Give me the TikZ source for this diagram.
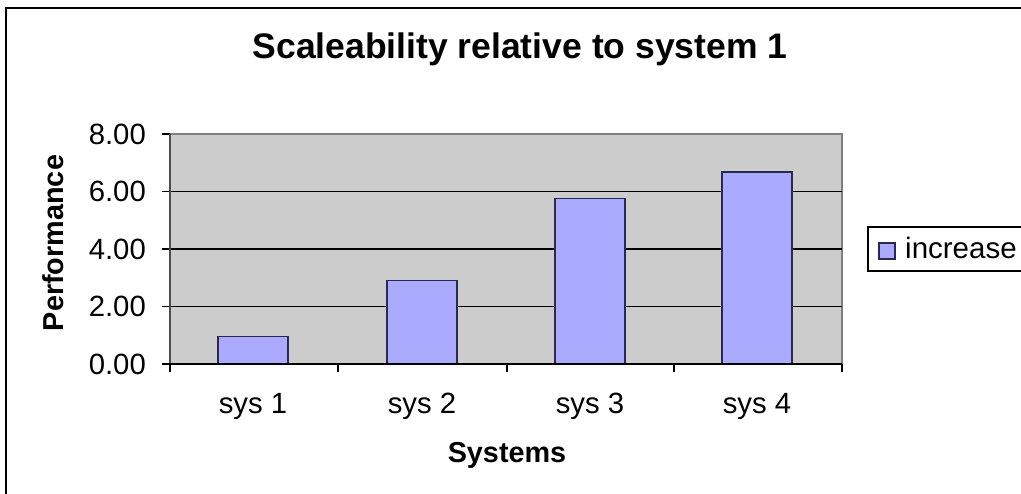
\documentclass[tikz,border=0pt]{standalone}
\usepackage{fontspec}
\setmainfont{Liberation Sans}

\definecolor{plotgray}{RGB}{204,204,204}
\definecolor{barblue}{RGB}{170,170,255}
\definecolor{baredge}{RGB}{40,40,80}
\definecolor{framegray}{RGB}{128,128,128}

\begin{document}
\begin{tikzpicture}[x=1pt, y=-1pt,
  ticklabel/.style={font=\fontsize{29.3}{31}\selectfont, inner sep=0pt},
  axistitle/.style={font=\fontsize{28.8}{30}\selectfont\bfseries, inner sep=0pt},
  bar/.style={draw=baredge, fill=barblue, line width=1.2pt},
  gridline/.style={draw=black, line width=1.2pt}]
  \useasboundingbox (0,0) rectangle (1021,494);
  % chart frame
  \draw[line width=1.5pt] (6,8) rectangle (1040,510);
  \node[font=\fontsize{35.5}{38}\selectfont\bfseries, inner sep=0pt, anchor=base] (title) at (520,59) {Scaleability relative to system 1};

  % plot area
  \fill[plotgray] (170,134) rectangle (842,364);
  \draw[framegray, line width=1.2pt] (170,134) -- (842,134) -- (842,364);
  \foreach \v in {2,4,6}
    \draw[gridline] (170,{364-28.75*\v}) -- (842,{364-28.75*\v});
  \foreach \v/\txt in {0/0.00,1/2.00,2/4.00,3/6.00,4/8.00} {
    \draw[line width=1.2pt] (162,{364-57.5*\v}) -- (170,{364-57.5*\v});
    \node[ticklabel, anchor=east] (ylab\v) at (146,{364-57.5*\v}) {\txt};
  }

  % bars
  \foreach \i/\x/\val in {1/253/0.95,2/422/2.90,3/590/5.75,4/757/6.68} {
    \draw[bar] (\x-35,364) rectangle (\x+35,{364-28.75*\val});
    \node[ticklabel, anchor=base] (sys\i) at (\x,414) {sys \i};
  }

  % axes
  \draw[black!70, line width=1.5pt] (170,134) -- (170,364);
  \draw[line width=1.2pt] (162,364) -- (842,364);
  \foreach \x in {170,338,507,674,842}
    \draw[line width=1.2pt] (\x,364) -- (\x,372);

  \node[axistitle, anchor=base] (xtitle) at (507,463) {Systems};
  \node[axistitle, anchor=base, rotate=90] (ytitle) at (63,243) {Performance};

  % legend
  \draw[line width=1.2pt, fill=white] (868,227) rectangle (1040,271);
  \draw[bar] (879,243) rectangle (895,259);
  \node[ticklabel, anchor=base west, font=\fontsize{29.5}{31}\selectfont] (legtext) at (905,259) {increase};
\end{tikzpicture}
\end{document}
